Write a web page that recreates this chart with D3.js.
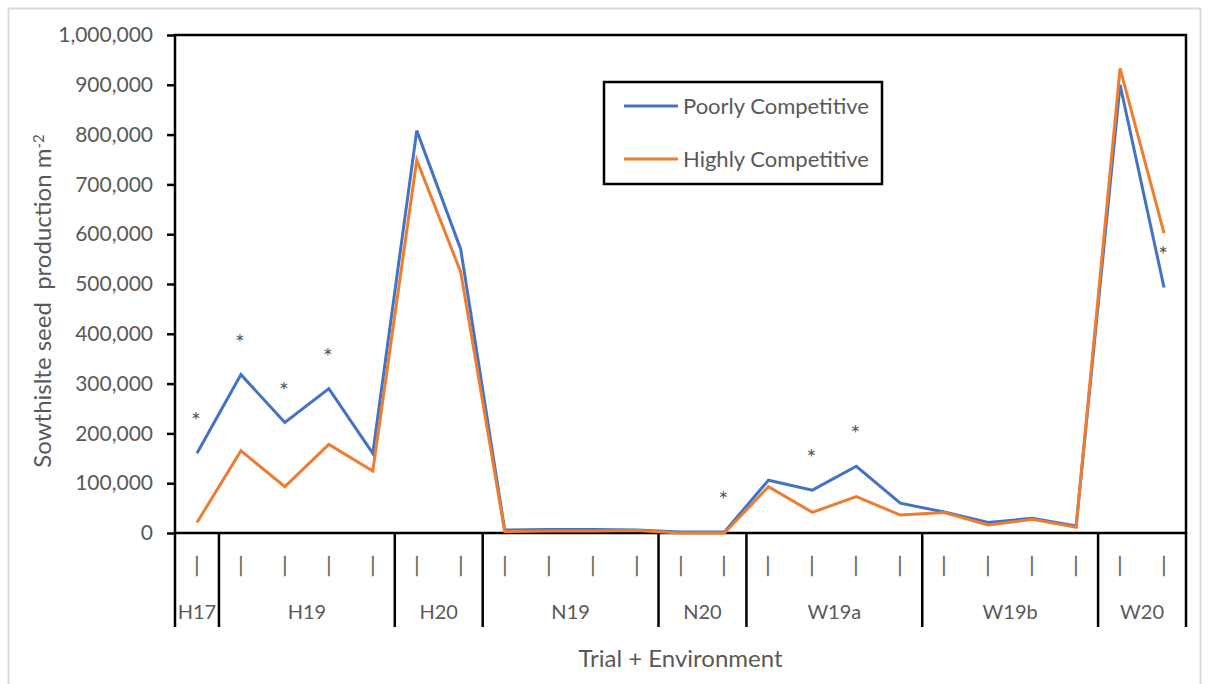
<!DOCTYPE html>
<html>
<head>
<meta charset="utf-8">
<script src="https://cdn.jsdelivr.net/npm/d3@7"></script>
<style>
  body { margin: 0; background: #fff; overflow: hidden; }
  svg { display: block; }
  text { font-family: Lato, "Open Sans", sans-serif; fill: #595959; }
</style>
</head>
<body>
<svg class="chartSVG"></svg>
<script>
// categories: one entry per point, grouped by trial + environment
const pointGroup = ["H17",
  "H19", "H19", "H19", "H19",
  "H20", "H20",
  "N19", "N19", "N19", "N19",
  "N20", "N20",
  "W19a", "W19a", "W19a", "W19a",
  "W19b", "W19b", "W19b", "W19b",
  "W20", "W20"];
const pointLabels = pointGroup.map(function() { return "|"; });

// series values (seeds per m2)
const poorly = [160000, 318000, 222000, 290000, 160000,
  808000, 570000,
  6000, 7000, 7000, 6000,
  2000, 2000,
  106000, 86000, 134000, 60000,
  42000, 21000, 29500, 14000,
  900000, 493000];
const highly = [21000, 165000, 93000, 178000, 124500,
  749000, 524000,
  3000, 4000, 4000, 5000,
  0, 0,
  93000, 41500, 73000, 36000,
  41000, 16000, 27500, 11500,
  933000, 602000];

// significance markers: point index and height of the asterisk
const sigIndex = [0, 1, 2, 3, 12, 14, 15, 22];
const sigLevel = [234000, 391000, 295000, 362000, 76000, 160000, 208000, 567000];

const yTicks = [0, 100000, 200000, 300000, 400000, 500000, 600000, 700000, 800000, 900000, 1000000];
const seriesNames = ["Poorly Competitive", "Highly Competitive"];
const colours = ["#4472C4", "#ED7D31"];

const svgWidth = 1209;
const svgHeight = 684;

var margin = {
    top: 35,
    right: 23,
    left: 175,
    bottom: 151
}
var innerWidth = svgWidth - margin.left - margin.right;
var innerHeight = svgHeight - margin.top - margin.bottom;

const svg = d3.select(".chartSVG")
  .attr("width", svgWidth)
  .attr("height", svgHeight);

// outer chart border
svg.append("rect")
  .attr("x", 8.5).attr("y", 8.5)
  .attr("width", 1192).attr("height", 690)
  .attr("fill", "none")
  .attr("stroke", "#d9d9d9")
  .attr("stroke-width", 2);

var graph = svg.append("g")
  .attr("transform", "translate(" + margin.left + "," + margin.top + ")");

var x = d3.scaleBand()
  .domain(d3.range(pointGroup.length))
  .range([0, innerWidth]);
function xc(i) { return x(i) + x.bandwidth() / 2; }

var y = d3.scaleLinear()
  .domain([0, 1000000])
  .range([innerHeight, 0]);

// y axis
var yAxis = graph.append("g")
  .call(d3.axisLeft(y).tickValues(yTicks).tickSize(8).tickSizeOuter(0).tickPadding(14)
    .tickFormat(d3.format(",")));
yAxis.select(".domain").remove();
yAxis.selectAll(".tick line").attr("stroke", "#000").attr("stroke-width", 2.5);
yAxis.selectAll(".tick text")
  .style("font-size", "21px")
  .attr("fill", "#595959");

// plot frame (top, right, left, bottom)
graph.append("rect")
  .attr("x", 0).attr("y", 0)
  .attr("width", innerWidth).attr("height", innerHeight)
  .attr("fill", "none")
  .attr("stroke", "#000")
  .attr("stroke-width", 2.5);

// group separators below the axis
var groupNames = [];
var groupStart = [];
var groupEnd = [];
pointGroup.forEach(function(g, i) {
  if (i == 0 || pointGroup[i - 1] != g) {
    groupNames.push(g);
    groupStart.push(i);
    groupEnd.push(i);
  } else {
    groupEnd[groupEnd.length - 1] = i;
  }
});
var bounds = groupStart.map(function(s) { return x(s); }).concat([innerWidth]);
graph.selectAll(".sep")
  .data(bounds)
  .enter().append("line")
    .attr("x1", function(d) { return d; })
    .attr("x2", function(d) { return d; })
    .attr("y1", innerHeight)
    .attr("y2", innerHeight + 94)
    .attr("stroke", "#000")
    .attr("stroke-width", 2.5);

// inner category labels
graph.selectAll(".plabel")
  .data(pointLabels)
  .enter().append("text")
    .attr("x", function(d, i) { return Math.round(xc(i)); })
    .attr("y", innerHeight + 39)
    .attr("text-anchor", "middle")
    .style("font-size", "21px")
    .attr("fill", "#808080")
    .attr("stroke", "#808080")
    .attr("stroke-width", 0.3)
    .text(function(d) { return d; });

// group labels
graph.selectAll(".glabel")
  .data(groupNames)
  .enter().append("text")
    .attr("x", function(d, i) { return (x(groupStart[i]) + x(groupEnd[i]) + x.bandwidth()) / 2; })
    .attr("y", innerHeight + 86)
    .attr("text-anchor", "middle")
    .style("font-size", "20px")
    .text(function(d) { return d; });

// lines
var line = d3.line()
  .x(function(d, i) { return xc(i); })
  .y(function(d) { return y(d); });
[poorly, highly].forEach(function(series, k) {
  graph.append("path")
    .datum(series)
    .attr("fill", "none")
    .attr("stroke", colours[k])
    .attr("stroke-width", 3)
    .attr("stroke-linejoin", "miter")
    .attr("d", line);
});

// asterisks
graph.selectAll(".sig")
  .data(sigIndex)
  .enter().append("text")
    .attr("x", function(d) { return xc(d) - 1; })
    .attr("y", function(d, i) { return y(sigLevel[i]); })
    .attr("dy", "0.55em")
    .attr("text-anchor", "middle")
    .style("font-size", "23px")
    .attr("fill", "#595959")
    .text("*");

// legend
var legend = svg.append("g").attr("transform", "translate(604,82)");
legend.append("rect")
  .attr("width", 278).attr("height", 102)
  .attr("fill", "#fff")
  .attr("stroke", "#000")
  .attr("stroke-width", 2.5);
seriesNames.forEach(function(name, k) {
  var ly = 24 + k * 53;
  legend.append("line")
    .attr("x1", 20).attr("x2", 74)
    .attr("y1", ly).attr("y2", ly)
    .attr("stroke", colours[k])
    .attr("stroke-width", 3);
  legend.append("text")
    .attr("x", 79).attr("y", ly)
    .attr("dy", "0.35em")
    .style("font-size", "22px")
    .text(name);
});

// axis titles
svg.append("text")
  .attr("x", (margin.left + svgWidth - margin.right) / 2)
  .attr("y", 667)
  .attr("text-anchor", "middle")
  .style("font-size", "24px")
  .text("Trial + Environment");

var ytitle = svg.append("text")
  .attr("transform", "translate(51,301) rotate(-90)")
  .attr("text-anchor", "middle")
  .attr("xml:space", "preserve")
  .style("white-space", "pre")
  .style("font-size", "24px");
ytitle.append("tspan").text("Sowthislte seed  production m");
ytitle.append("tspan").attr("dy", "-0.45em").style("font-size", "15px").text("-2");
</script>
</body>
</html>
